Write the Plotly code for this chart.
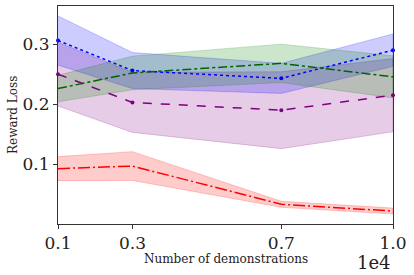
import plotly.graph_objects as go

x_vals = [1000, 3000, 7000, 10000]
x_tick_labels = ["0.1", "0.3", "0.7", "1.0"]
y_tick_vals = [0.1, 0.2, 0.3]
y_tick_labels = ["0.1", "0.2", "0.3"]

blue_mean = [0.306, 0.256, 0.243, 0.290]
blue_std = [0.041, 0.030, 0.025, 0.027]
green_mean = [0.226, 0.252, 0.268, 0.2455]
green_std = [0.022, 0.028, 0.032, 0.035]
purple_mean = [0.250, 0.203, 0.190, 0.215]
purple_std = [0.053, 0.050, 0.064, 0.061]
red_mean = [0.0927, 0.097, 0.0333, 0.022]
red_std = [0.020, 0.024, 0.005, 0.005]

series = [
    ("purple", purple_mean, purple_std, "rgba(128,0,128,0.2)", "dash", True),
    ("blue", blue_mean, blue_std, "rgba(0,0,255,0.2)", "dot", True),
    ("green", green_mean, green_std, "rgba(0,128,0,0.2)", "dashdot", False),
    ("red", red_mean, red_std, "rgba(255,0,0,0.2)", "12px,3px,2px,3px", False),
]

fig = go.Figure()
for color, mean, std, fillc, dash, markers in series:
    upper = [m + s for m, s in zip(mean, std)]
    lower = [m - s for m, s in zip(mean, std)]
    fig.add_trace(go.Scatter(
        x=x_vals + x_vals[::-1], y=upper + lower[::-1],
        fill="toself", fillcolor=fillc, line=dict(color=fillc, width=1),
        mode="lines", hoverinfo="skip", showlegend=False))
for color, mean, std, fillc, dash, markers in series:
    lc = {"green": "#006400"}.get(color, color)
    fig.add_trace(go.Scatter(
        x=x_vals, y=mean, mode="lines+markers" if markers else "lines",
        line=dict(color=lc, width=1.5, dash=dash),
        marker=dict(size=4, color=lc), showlegend=False, cliponaxis=False))

font = "DejaVu Serif"
axis_common = dict(showline=True, linecolor="#333", linewidth=1, mirror=True,
                   ticks="outside", ticklen=4, tickcolor="#333", showgrid=False,
                   zeroline=False, tickfont=dict(family=font, size=17, color="#222"))
fig.update_xaxes(range=[1000, 10000], tickvals=x_vals, ticktext=x_tick_labels, **axis_common)
fig.update_yaxes(range=[0.0005, 0.3635], tickvals=y_tick_vals, ticktext=y_tick_labels, **axis_common)

fig.add_annotation(text="Number of demonstrations", xref="paper", yref="paper",
                   x=0.5, y=-(259 - 224) / 218, xanchor="center", yanchor="middle",
                   showarrow=False, font=dict(family=font, size=12, color="#222"))
fig.add_annotation(text="Reward Loss", xref="paper", yref="paper", textangle=-90,
                   x=-(58 - 13) / 335, y=0.5, xanchor="center", yanchor="middle",
                   showarrow=False, font=dict(family=font, size=12, color="#222"))
fig.add_annotation(text="1e4", xref="paper", yref="paper", x=1.0, y=-(262 - 224) / 218,
                   xanchor="right", yanchor="middle",
                   showarrow=False, font=dict(family=font, size=18, color="#222"))
fig.update_layout(width=414, height=275, margin=dict(l=58, r=21, t=6, b=51),
                  plot_bgcolor="white", paper_bgcolor="white")
fig.write_html("out.html", config={"displayModeBar": False},
               post_script="document.body.style.margin='0';")
